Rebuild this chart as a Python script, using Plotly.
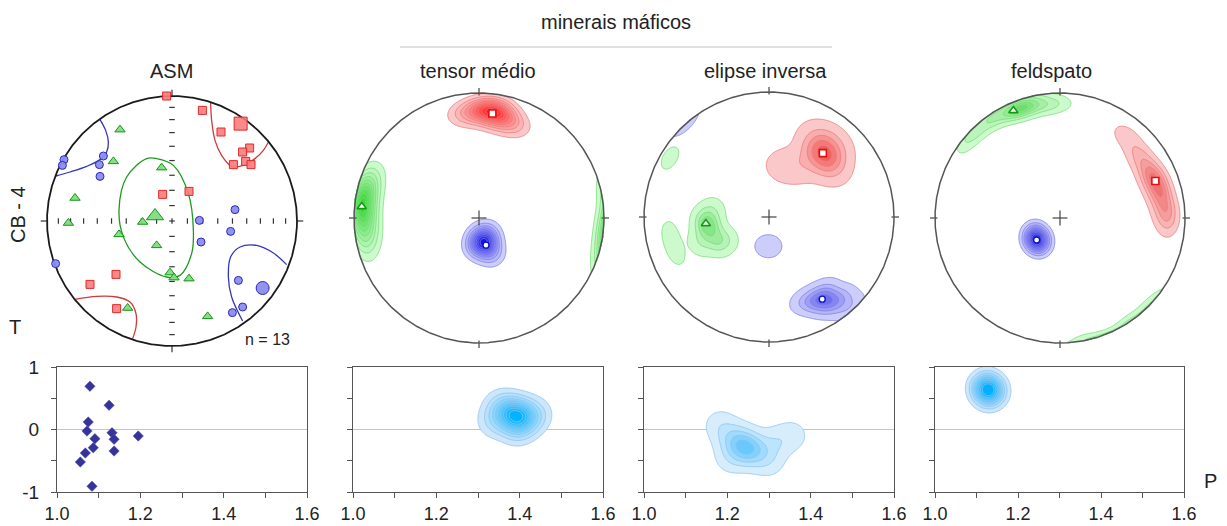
import numpy as np
import plotly.graph_objects as go

W, H = 1227, 526
FONT = "Liberation Sans, Arial, sans-serif"

# ======================= DATA =======================
# --- ASM stereonet (equal-area, lower hemisphere; projected x, y on unit primitive)
ASM_K1_X = [-0.043, 0.243, 0.392, 0.621, 0.565, 0.589, 0.491, 0.632, 0.136, -0.075, -0.448, -0.656, -0.443]
ASM_K1_Y = [1.0, 0.885, 0.712, 0.584, 0.552, 0.477, 0.451, 0.451, 0.237, 0.213, -0.427, -0.507, -0.701]
ASM_K1_MEAN = [0.549, 0.779]
ASM_K2_X = [-0.416, -0.469, -0.083, -0.776, -0.829, -0.235, -0.424, -0.123, -0.016, 0.016, 0.136, -0.355, 0.285]
ASM_K2_Y = [0.731, 0.477, 0.427, 0.184, -0.016, -0.008, -0.107, -0.195, -0.413, -0.453, -0.461, -0.696, -0.763]
ASM_K2_MEAN = [-0.136, 0.04]
ASM_K3_X = [-0.549, -0.864, -0.877, -0.581, -0.576, 0.504, 0.219, 0.469, 0.232, -0.931, 0.531, 0.565, 0.483]
ASM_K3_Y = [0.52, 0.491, 0.445, 0.451, 0.357, 0.091, 0.005, -0.083, -0.168, -0.341, -0.475, -0.688, -0.733]
ASM_K3_MEAN = [0.725, -0.536]
ASM_N = 13

# confidence regions of the mean axes (projected)
CONF_K1_A_X = [0.309, 0.317, 0.344, 0.397, 0.477, 0.571, 0.664, 0.731, 0.771]
CONF_K1_A_Y = [0.944, 0.805, 0.645, 0.525, 0.437, 0.445, 0.499, 0.565, 0.632]
CONF_K1_B_X = [-0.776, -0.603, -0.443, -0.336, -0.288, -0.288, -0.315]
CONF_K1_B_Y = [-0.627, -0.603, -0.608, -0.648, -0.741, -0.848, -0.941]
CONF_K3_A_X = [-0.576, -0.531, -0.509, -0.523, -0.576, -0.683, -0.816, -0.928]
CONF_K3_A_Y = [0.811, 0.725, 0.632, 0.552, 0.491, 0.437, 0.392, 0.360]
CONF_K3_B_X = [0.917, 0.811, 0.677, 0.544, 0.469, 0.451, 0.477, 0.565]
CONF_K3_B_Y = [-0.349, -0.256, -0.195, -0.208, -0.288, -0.448, -0.608, -0.800]
CONF_K2_X = [-0.203, -0.363, -0.424, -0.389, -0.256, -0.043, 0.064, 0.157, 0.171, 0.131, 0.011, -0.123, -0.203]
CONF_K2_Y = [0.499, 0.352, 0.085, -0.128, -0.328, -0.448, -0.435, -0.261, -0.075, 0.219, 0.445, 0.499, 0.499]

# --- ASM P-T data
ASM_P = [1.079, 1.125, 1.075, 1.072, 1.132, 1.195, 1.091, 1.137, 1.087, 1.137, 1.068, 1.056, 1.084]
ASM_T = [0.691, 0.387, 0.12, -0.024, -0.051, -0.104, -0.147, -0.157, -0.291, -0.344, -0.376, -0.52, -0.909]

# --- tensor médio: orientation samples (projected x, y, weight) and mean axes
TM_K1_X = [0.10, 0.01, -0.10, 0.19, 0.27, 0.14]
TM_K1_Y = [0.845, 0.865, 0.835, 0.785, 0.755, 0.885]
TM_K1_W = [3, 1, 1, 1, 0.8, 1]
TM_K2_X = [-0.935, -0.92, -0.895, -0.865, -0.92]
TM_K2_Y = [0.086, 0.22, -0.075, 0.273, -0.18]
TM_K2_W = [3, 1, 1, 0.7, 0.7]
TM_K3_X = [0.048, 0.008, 0.102, -0.019, 0.075]
TM_K3_Y = [-0.196, -0.155, -0.29, -0.236, -0.115]
TM_K3_W = [3, 1, 1, 1, 0.7]
TM_MEAN_K1 = [0.107, 0.836]
TM_MEAN_K2 = [-0.938, 0.091]
TM_MEAN_K3 = [0.056, -0.217]

# --- elipse inversa
EI_K1_X = [0.431, 0.484, 0.404, 0.457, 0.351, 0.53, 0.40, 0.52, 0.22, 0.10, 0.511]
EI_K1_Y = [0.511, 0.492, 0.572, 0.426, 0.452, 0.58, 0.66, 0.40, 0.40, 0.41, 0.625]
EI_K1_W = [3, 1, 1, 1, 0.6, 0.6, 0.5, 0.5, 0.8, 0.75, 0.6]
EI_K2_X = [-0.48, -0.52, -0.42, -0.35, -0.55, -0.45, -0.793, -0.80, -0.77, -0.735]
EI_K2_Y = [-0.08, -0.02, -0.2, -0.18, -0.2, 0.05, 0.473, -0.11, -0.21, -0.31]
EI_K2_W = [2, 1, 1, 0.7, 0.7, 0.6, 0.4, 0.28, 0.28, 0.28]
EI_K3_X = [0.43, 0.50, 0.35, 0.28, 0.58, 0.45, 0.62, 0.68, -0.04, 0.03]
EI_K3_Y = [-0.66, -0.69, -0.66, -0.68, -0.66, -0.59, -0.72, -0.72, -0.234, -0.234]
EI_K3_W = [2, 1.5, 1, 0.6, 0.8, 0.6, 0.5, 0.35, 0.38, 0.38]
EI_MEAN_K1 = [0.431, 0.511]
EI_MEAN_K2 = [-0.505, -0.053]
EI_MEAN_K3 = [0.426, -0.657]

# --- feldspato
FD_K1_X = [0.533, 0.64, 0.72, 0.763, 0.8, 0.84, 0.867]
FD_K1_Y = [0.651, 0.491, 0.357, 0.296, 0.197, 0.064, -0.016]
FD_K1_W = [0.5, 0.8, 1, 1.2, 1.3, 1, 0.6]
FD_K2_X = [0.0, -0.107, -0.24, -0.32, -0.373, -0.507, -0.64, -0.55, -0.70, -0.20, -0.75]
FD_K2_Y = [0.92, 0.904, 0.891, 0.877, 0.859, 0.797, 0.704, 0.82, 0.69, 0.97, 0.60]
FD_K2_W = [0.4, 0.8, 1.2, 1.5, 1.2, 0.8, 0.5, 0.6, 0.6, 0.5, 0.4]
FD_K3_X = [-0.187, -0.2, -0.17]
FD_K3_Y = [-0.171, -0.12, -0.22]
FD_K3_W = [3, 1, 1]
FD_MEAN_K1 = [0.763, 0.296]
FD_MEAN_K2 = [-0.373, 0.859]
FD_MEAN_K3 = [-0.187, -0.176]

# --- P-T density samples (P, T, weight)
TM_PT_P = [1.392, 1.368, 1.416, 1.352, 1.336, 1.44, 1.392]
TM_PT_T = [0.227, 0.28, 0.147, 0.387, 0.12, 0.253, -0.013]
TM_PT_W = [3, 1, 1, 0.6, 0.7, 0.7, 0.6]
EI_PT_P = [1.242, 1.214, 1.27, 1.182, 1.318, 1.358, 1.302, 1.206]
EI_PT_T = [-0.28, -0.147, -0.36, 0.067, -0.2, -0.093, -0.52, -0.467]
EI_PT_W = [2, 1, 1, 0.6, 0.6, 0.5, 0.5, 0.5]
FD_PT_P = [1.1285, 1.12, 1.135]
FD_PT_T = [0.637, 0.70, 0.57]
FD_PT_W = [3, 1, 1]

P_TICKS = [1.0, 1.1, 1.2, 1.3, 1.4, 1.5, 1.6]
P_TICKTEXT = ["1.0", "", "1.2", "", "1.4", "", "1.6"]
T_TICKS = [-1, -0.5, 0, 0.5, 1]
T_TICKTEXT = ["-1", "", "0", "", "1"]

TITLES = ["ASM", "tensor médio", "elipse inversa", "feldspato"]

# ======================= LAYOUT GEOMETRY =======================
R = 125
PAD = 1.12
NET_CENTERS = [(172, 221), (479, 218), (769, 217), (1060, 218)]
BOT_X = [(57, 307), (353, 603), (644, 894), (935, 1184)]
BOT_Y = (367, 492)


def dom_x(a, b):
    return [a / W, b / W]


def dom_y(top, bottom):
    return [1 - bottom / H, 1 - top / H]


def ax(i):
    return ("x" if i == 1 else f"x{i}"), ("y" if i == 1 else f"y{i}")


# ======================= HELPERS =======================
def eqarea_to_vec(x, y):
    x = np.asarray(x, float)
    y = np.asarray(y, float)
    rho = np.clip(np.hypot(x, y), 1e-12, None)
    th = 2 * np.arcsin(np.clip(rho, 0, 1) / np.sqrt(2))
    s = np.sin(th) / rho
    return np.stack([x * s, y * s, -np.cos(th)], axis=-1)


GRID = np.linspace(-1.0, 1.0, 301)
GX, GY = np.meshgrid(GRID, GRID)
GVEC = eqarea_to_vec(GX, GY)
INSIDE = np.hypot(GX, GY) <= 1.0


def net_density(xs, ys, ws, sigma_deg):
    pv = eqarea_to_vec(xs, ys)
    kappa = 1.0 / np.radians(sigma_deg) ** 2
    d = np.abs(np.tensordot(GVEC, pv, axes=([2], [1])))
    dens = (np.exp(kappa * (d - 1)) * np.asarray(ws, float)).sum(-1)
    dens = dens / dens[INSIDE].max()
    dens[~INSIDE] = 0
    return dens


PG = np.linspace(1.0, 1.6, 301)
TG = np.linspace(-1.0, 1.0, 201)


def pt_density(ps, ts, ws, bw_px):
    PX, TY = np.meshgrid((PG - 1.0) / 0.6 * 250, (TG + 1) / 2 * 125)
    sx = (np.asarray(ps) - 1.0) / 0.6 * 250
    sy = (np.asarray(ts) + 1) / 2 * 125
    dens = np.zeros_like(PX)
    for a, b, w in zip(sx, sy, ws):
        dens += w * np.exp(-((PX - a) ** 2 + (TY - b) ** 2) / (2 * bw_px ** 2))
    return dens / dens.max()


def mix(c1, c2, t):
    return tuple(int(round(a + (b - a) * t)) for a, b in zip(c1, c2))


def contour(z, x, y, i, lo, hi, n, light, dark, line):
    xa, ya = ax(i)
    size = (hi - lo) / (n - 1)
    cs = [[0, "rgba(255,255,255,0)"]]
    for k in range(1, n + 1):
        c = mix(light, dark, (k - 1) / max(n - 1, 1))
        cs.append([k / n, "rgb(%d,%d,%d)" % c])
    return go.Contour(
        x=x, y=y, z=z, xaxis=xa, yaxis=ya, autocontour=False,
        contours=dict(start=lo, end=hi, size=size, coloring="fill", showlines=True),
        colorscale=cs, showscale=False, hoverinfo="skip",
        line=dict(color=line, width=0.8, smoothing=1.0),
    )


traces = []

RED_L, RED_LINE = (250, 200, 200), "rgb(236,120,120)"
BLU_L, BLU_LINE = (205, 205, 250), "rgb(125,125,232)"
GRN_L, GRN_LINE = (205, 250, 205), "rgb(115,220,115)"

# ---- stereonet density contours
# tensor médio (panel 2)
traces.append(contour(net_density(TM_K1_X, TM_K1_Y, TM_K1_W, 6.5), GRID, GRID, 2, 0.07, 0.93, 10, RED_L, (255, 35, 35), RED_LINE))
traces.append(contour(net_density(TM_K2_X, TM_K2_Y, TM_K2_W, 7), GRID, GRID, 2, 0.07, 0.93, 10, GRN_L, (60, 215, 60), GRN_LINE))
traces.append(contour(net_density(TM_K3_X, TM_K3_Y, TM_K3_W, 5.5), GRID, GRID, 2, 0.07, 0.93, 10, BLU_L, (20, 20, 235), BLU_LINE))
# elipse inversa (panel 3)
traces.append(contour(net_density(EI_K1_X, EI_K1_Y, EI_K1_W, 7.5), GRID, GRID, 3, 0.06, 0.86, 5, RED_L, (242, 95, 95), RED_LINE))
traces.append(contour(net_density(EI_K2_X, EI_K2_Y, EI_K2_W, 5.2), GRID, GRID, 3, 0.07, 0.75, 4, GRN_L, (135, 228, 135), GRN_LINE))
traces.append(contour(net_density(EI_K3_X, EI_K3_Y, EI_K3_W, 5.5), GRID, GRID, 3, 0.07, 0.85, 5, BLU_L, (110, 110, 238), BLU_LINE))
# feldspato (panel 4)
traces.append(contour(net_density(FD_K1_X, FD_K1_Y, FD_K1_W, 6), GRID, GRID, 4, 0.1, 0.85, 5, RED_L, (240, 115, 115), RED_LINE))
traces.append(contour(net_density(FD_K2_X, FD_K2_Y, FD_K2_W, 5), GRID, GRID, 4, 0.08, 0.9, 6, GRN_L, (110, 222, 110), GRN_LINE))
traces.append(contour(net_density(FD_K3_X, FD_K3_Y, FD_K3_W, 5), GRID, GRID, 4, 0.07, 0.93, 10, BLU_L, (20, 20, 232), BLU_LINE))

# ---- P-T density contours
PT_L, PT_LINE = (205, 230, 250), "rgb(140,195,240)"
traces.append(contour(pt_density(TM_PT_P, TM_PT_T, TM_PT_W, 11), PG, TG, 6, 0.07, 0.9, 10, PT_L, (0, 180, 255), PT_LINE))
traces.append(contour(pt_density(EI_PT_P, EI_PT_T, EI_PT_W, 11), PG, TG, 7, 0.1, 0.85, 5, (215, 237, 252), (105, 200, 252), PT_LINE))
traces.append(contour(pt_density(FD_PT_P, FD_PT_T, FD_PT_W, 10), PG, TG, 8, 0.08, 0.85, 9, PT_L, (0, 175, 255), PT_LINE))

# ---- ASM confidence regions
for xs, ys, col in [(CONF_K1_A_X, CONF_K1_A_Y, "#d03a3a"), (CONF_K1_B_X, CONF_K1_B_Y, "#d03a3a"),
                    (CONF_K3_A_X, CONF_K3_A_Y, "#3535c0"), (CONF_K3_B_X, CONF_K3_B_Y, "#3535c0"),
                    (CONF_K2_X, CONF_K2_Y, "#1a9a1a")]:
    traces.append(go.Scatter(x=xs, y=ys, mode="lines", line=dict(color=col, width=1.3, shape="spline", smoothing=1.0),
                             hoverinfo="skip", xaxis="x", yaxis="y"))

# ---- circles and ticks
theta = np.linspace(0, 2 * np.pi, 721)
tick_r = [np.sqrt(2) * np.sin(np.radians((90 - p) / 2)) for p in range(10, 90, 10)]
for i in range(1, 5):
    xa, ya = ax(i)
    segx, segy = [], []
    if i == 1:
        h = 0.022
        for r in tick_r:
            for s in (-1, 1):
                segx += [s * r, s * r, None]
                segy += [-h, h, None]
                segx += [-h, h, None]
                segy += [s * r, s * r, None]
        segx += [-h, h, None, 0, 0, None]
        segy += [0, 0, None, -h, h, None]
        r0, r1 = 1.0, 1.05
    else:
        a = 0.06
        segx += [-a, a, None, 0, 0, None]
        segy += [0, 0, None, -a, a, None]
        r0, r1 = 0.98, 1.04
    for (ux, uy) in [(1, 0), (-1, 0), (0, 1), (0, -1)]:
        segx += [ux * r0, ux * r1, None]
        segy += [uy * r0, uy * r1, None]
    traces.append(go.Scatter(x=segx, y=segy, mode="lines", line=dict(color="#333" if i == 1 else "#444", width=1.2),
                             hoverinfo="skip", xaxis=xa, yaxis=ya))
    traces.append(go.Scatter(x=np.cos(theta), y=np.sin(theta), mode="lines",
                             line=dict(color="#1a1a1a" if i == 1 else "#555", width=1.8 if i == 1 else 1.5),
                             hoverinfo="skip", xaxis=xa, yaxis=ya))

# ---- ASM markers
SQ = dict(symbol="square", color="rgba(250,125,125,0.9)", line=dict(color="#e02828", width=1))
TR = dict(symbol="triangle-up", color="rgba(130,220,130,0.95)", line=dict(color="#129612", width=1))
CI = dict(symbol="circle", color="rgba(140,140,240,0.95)", line=dict(color="#2a2ab8", width=1))
for xs, ys, mean, sty, s0, s1 in [(ASM_K1_X, ASM_K1_Y, ASM_K1_MEAN, SQ, 8, 13),
                                  (ASM_K2_X, ASM_K2_Y, ASM_K2_MEAN, TR, 9, 15),
                                  (ASM_K3_X, ASM_K3_Y, ASM_K3_MEAN, CI, 8, 13)]:
    traces.append(go.Scatter(x=xs, y=ys, mode="markers", marker=dict(size=s0, **sty), hoverinfo="skip", xaxis="x", yaxis="y"))
    traces.append(go.Scatter(x=[mean[0]], y=[mean[1]], mode="markers", marker=dict(size=s1, **sty), hoverinfo="skip", xaxis="x", yaxis="y"))

# ---- mean axes of the density panels
for i, m1, m2, m3 in [(2, TM_MEAN_K1, TM_MEAN_K2, TM_MEAN_K3),
                      (3, EI_MEAN_K1, EI_MEAN_K2, EI_MEAN_K3),
                      (4, FD_MEAN_K1, FD_MEAN_K2, FD_MEAN_K3)]:
    xa, ya = ax(i)
    traces.append(go.Scatter(x=[m1[0]], y=[m1[1]], mode="markers", xaxis=xa, yaxis=ya, hoverinfo="skip",
                             marker=dict(symbol="square", size=7, color="white", line=dict(color="#e01010", width=1.6))))
    traces.append(go.Scatter(x=[m2[0]], y=[m2[1]], mode="markers", xaxis=xa, yaxis=ya, hoverinfo="skip",
                             marker=dict(symbol="triangle-up", size=8, color="white", line=dict(color="#139a13", width=1.6))))
    traces.append(go.Scatter(x=[m3[0]], y=[m3[1]], mode="markers", xaxis=xa, yaxis=ya, hoverinfo="skip",
                             marker=dict(symbol="circle", size=6, color="white", line=dict(color="#1010c0", width=1.4))))

# ---- ASM P-T scatter
traces.append(go.Scatter(x=ASM_P, y=ASM_T, mode="markers", xaxis="x5", yaxis="y5", hoverinfo="skip",
                         marker=dict(symbol="diamond", size=8, color="#34349a", line=dict(color="#5050b0", width=0.5))))

fig = go.Figure(data=traces)

layout = dict(width=W, height=H, margin=dict(l=0, r=0, t=0, b=0, pad=0, autoexpand=False), autosize=False,
              paper_bgcolor="white", plot_bgcolor="white", showlegend=False,
              font=dict(family=FONT, color="#222", size=20))
for i, (cx, cy) in enumerate(NET_CENTERS, start=1):
    half = R * PAD
    xk = "xaxis" if i == 1 else f"xaxis{i}"
    yk = "yaxis" if i == 1 else f"yaxis{i}"
    xa, ya = ax(i)
    layout[xk] = dict(domain=dom_x(cx - half, cx + half), range=[-PAD, PAD], visible=False, anchor=ya, fixedrange=True)
    layout[yk] = dict(domain=dom_y(cy - half, cy + half), range=[-PAD, PAD], visible=False, anchor=xa, fixedrange=True)
for j, (a, b) in enumerate(BOT_X):
    i = j + 5
    xa, ya = ax(i)
    layout[f"xaxis{i}"] = dict(domain=dom_x(a, b), range=[1.0, 1.6], anchor=ya, showline=True, mirror=True,
                               linecolor="#555", linewidth=1, ticks="outside", ticklen=5, tickcolor="#555",
                               tickvals=P_TICKS, ticktext=P_TICKTEXT, tickfont=dict(size=18, color="#222"),
                               ticklabelstandoff=0,
                               showgrid=False, zeroline=False, fixedrange=True, automargin=False)
    layout[f"yaxis{i}"] = dict(domain=dom_y(*BOT_Y), range=[-1, 1], anchor=xa, showline=True, mirror=True,
                               linecolor="#555", linewidth=1, ticks="outside", ticklen=5, tickcolor="#555",
                               tickvals=T_TICKS, ticktext=T_TICKTEXT if j == 0 else [""] * 5,
                               tickfont=dict(size=19, color="#222"), showgrid=False, automargin=False,
                               ticklabelstandoff=8,
                               zeroline=True, zerolinecolor="#c4c4c4", zerolinewidth=1.3, fixedrange=True)
fig.update_layout(**layout)


def note(text, x, y, size=20, **kw):
    fig.add_annotation(text=text, x=x / W, y=1 - y / H, xref="paper", yref="paper", showarrow=False,
                       xanchor="center", yanchor="middle", font=dict(size=size, color="#222", family=FONT), **kw)


for t, xc in zip(TITLES, [171, 478, 765, 1051]):
    note(t, xc, 71)
note("minerais máficos", 616, 22)
note("CB - 4", 18, 215, textangle=-90)
note("T", 15, 327)
note("P", 1210, 481)
note(f"n = {ASM_N}", 267, 339, size=16)
fig.add_shape(type="line", xref="paper", yref="paper", x0=400 / W, x1=832 / W, y0=1 - 47 / H, y1=1 - 47 / H,
              line=dict(color="#c0c0c0", width=1))

fig.write_html("out.html", config={"displayModeBar": False},
               post_script="document.body.style.margin='0px';")
